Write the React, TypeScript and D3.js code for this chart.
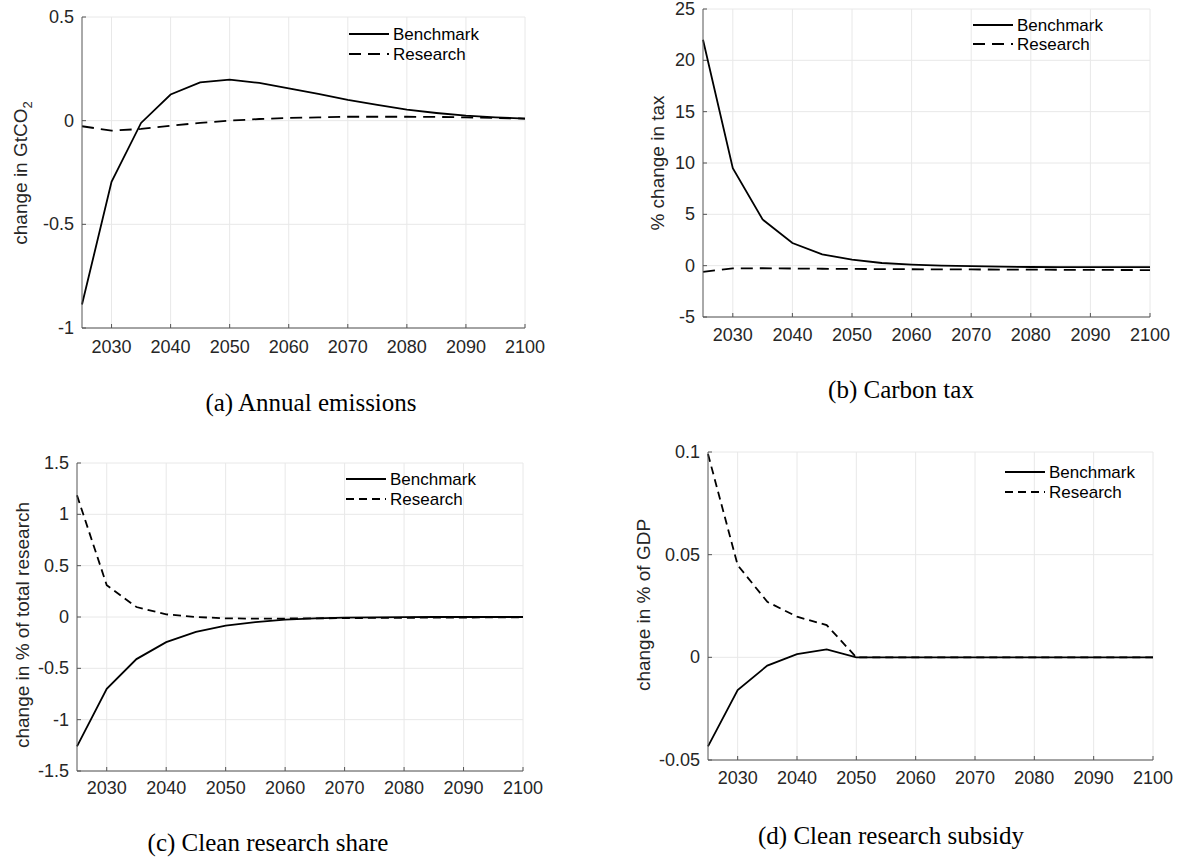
import React from "react";
import * as d3 from "d3";

// model years and tick years
const years = [2025, 2030, 2035, 2040, 2045, 2050, 2055, 2060, 2065, 2070, 2075, 2080, 2085, 2090, 2095, 2100];
const xTicks = [2030, 2040, 2050, 2060, 2070, 2080, 2090, 2100];
const seriesNames = ["Benchmark", "Research"];

// (a) annual emissions, GtCO2
const emissionsBenchmark = [-0.887, -0.295, -0.011, 0.126, 0.185, 0.198, 0.182, 0.156, 0.129, 0.1, 0.076, 0.053, 0.037, 0.024, 0.016, 0.01];
const emissionsResearch = [-0.027, -0.048, -0.04, -0.024, -0.011, 0, 0.008, 0.013, 0.016, 0.019, 0.019, 0.019, 0.018, 0.016, 0.013, 0.01];
const emissionsTicks = [-1, -0.5, 0, 0.5];

// (b) carbon tax, % change
const taxBenchmark = [22.0, 9.5, 4.5, 2.2, 1.1, 0.58, 0.26, 0.1, 0.0, -0.05, -0.1, -0.13, -0.15, -0.15, -0.15, -0.15];
const taxResearch = [-0.6, -0.27, -0.25, -0.28, -0.3, -0.32, -0.33, -0.35, -0.36, -0.37, -0.38, -0.39, -0.4, -0.41, -0.42, -0.43];
const taxTicks = [-5, 0, 5, 10, 15, 20, 25];

// (c) clean research share, % of total research
const shareBenchmark = [-1.26, -0.7, -0.41, -0.245, -0.146, -0.084, -0.05, -0.026, -0.013, -0.006, -0.003, -0.001, 0, 0, 0, 0];
const shareResearch = [1.185, 0.31, 0.097, 0.026, 0, -0.013, -0.016, -0.015, -0.013, -0.011, -0.009, -0.008, -0.006, -0.005, -0.004, -0.003];
const shareTicks = [-1.5, -1, -0.5, 0, 0.5, 1, 1.5];

// (d) clean research subsidy, % of GDP
const subsidyBenchmark = [-0.0434, -0.0159, -0.004, 0.0016, 0.0039, 0, 0, 0, 0, 0, 0, 0, 0, 0, 0, 0];
const subsidyResearch = [0.099, 0.0449, 0.027, 0.0198, 0.0157, 0, 0, 0, 0, 0, 0, 0, 0, 0, 0, 0];
const subsidyTicks = [-0.05, 0, 0.05, 0.1];

const SANS = "'Liberation Sans', Arial, Helvetica, sans-serif";
const SERIF = "'Liberation Serif', 'Times New Roman', serif";
const INK = "#262626";

interface PanelProps {
  box: { left: number; right: number; top: number; bottom: number };
  benchmark: number[];
  research: number[];
  yDomain: [number, number];
  yTicks: number[];
  yLabel: React.ReactNode;
  yLabelX: number;
  yLabelY: number;
  xLabelY: number;
  caption: string;
  captionX: number;
  captionY: number;
  legend: { x: number; y: number; gap: number };
  dash: string;
}

const Panel: React.FC<PanelProps> = ({
  box, benchmark, research, yDomain, yTicks, yLabel, yLabelX, yLabelY,
  xLabelY, caption, captionX, captionY, legend, dash,
}) => {
  const x = d3.scaleLinear().domain([2025, 2100]).range([box.left, box.right]);
  const y = d3.scaleLinear().domain(yDomain).range([box.bottom, box.top]);

  const line = d3.line<number>()
    .x((_, i) => x(years[i]))
    .y(d => y(d));

  const tickLen = 4;

  return (
    <g>
      {/* grid */}
      {xTicks.map(t => (
        <line key={"gx" + t} x1={x(t)} x2={x(t)} y1={box.top} y2={box.bottom} stroke="#e8e8e8" strokeWidth={1} />
      ))}
      {yTicks.map(t => (
        <line key={"gy" + t} x1={box.left} x2={box.right} y1={y(t)} y2={y(t)} stroke="#e8e8e8" strokeWidth={1} />
      ))}

      {/* series */}
      <path d={line(research) ?? ""} fill="none" stroke="#000" strokeWidth={1.8} strokeDasharray={dash} />
      <path d={line(benchmark) ?? ""} fill="none" stroke="#000" strokeWidth={1.8} />

      {/* axes */}
      <line x1={box.left} x2={box.right} y1={box.bottom} y2={box.bottom} stroke="#555" strokeWidth={1} />
      <line x1={box.left} x2={box.left} y1={box.top} y2={box.bottom} stroke="#555" strokeWidth={1} />
      {xTicks.map(t => (
        <g key={"xt" + t}>
          <line x1={x(t)} x2={x(t)} y1={box.bottom} y2={box.bottom - tickLen} stroke="#555" strokeWidth={1} />
          <text x={x(t)} y={xLabelY} textAnchor="middle" dominantBaseline="central"
            fontFamily={SANS} fontSize={18} fill={INK}>{t}</text>
        </g>
      ))}
      {yTicks.map(t => (
        <g key={"yt" + t}>
          <line x1={box.left} x2={box.left + tickLen} y1={y(t)} y2={y(t)} stroke="#555" strokeWidth={1} />
          <text x={box.left - 8} y={y(t)} textAnchor="end" dominantBaseline="central"
            fontFamily={SANS} fontSize={18} fill={INK}>{String(t)}</text>
        </g>
      ))}

      <text transform={`translate(${yLabelX},${yLabelY}) rotate(-90)`} textAnchor="middle"
        fontFamily={SANS} fontSize={19} fill={INK}>{yLabel}</text>

      {/* legend */}
      {seriesNames.map((name, i) => (
        <g key={name}>
          <line x1={legend.x} x2={legend.x + 40} y1={legend.y + i * legend.gap} y2={legend.y + i * legend.gap}
            stroke="#000" strokeWidth={1.8} strokeDasharray={i === 1 ? dash : undefined} />
          <text x={legend.x + 44} y={legend.y + i * legend.gap} dominantBaseline="central"
            fontFamily={SANS} fontSize={17} fill="#000">{name}</text>
        </g>
      ))}

      <text x={captionX} y={captionY} textAnchor="middle" fontFamily={SERIF} fontSize={25} fill="#000">{caption}</text>
    </g>
  );
};

export default function App() {
  return (
    <svg width={1179} height={861} style={{ position: "absolute", left: 0, top: 0, background: "#fff" }}>
      <Panel
        box={{ left: 82, right: 525, top: 17, bottom: 328 }}
        benchmark={emissionsBenchmark}
        research={emissionsResearch}
        yDomain={[-1, 0.5]}
        yTicks={emissionsTicks}
        yLabel={<><tspan>change in GtCO</tspan><tspan dy={5} fontSize={13}>2</tspan></>}
        yLabelX={27}
        yLabelY={173}
        xLabelY={347}
        caption="(a) Annual emissions"
        captionX={311}
        captionY={411}
        legend={{ x: 349, y: 34, gap: 20 }}
        dash="12,7"
      />
      <Panel
        box={{ left: 703, right: 1150, top: 9, bottom: 317 }}
        benchmark={taxBenchmark}
        research={taxResearch}
        yDomain={[-5, 25]}
        yTicks={taxTicks}
        yLabel="% change in tax"
        yLabelX={664}
        yLabelY={163}
        xLabelY={335}
        caption="(b) Carbon tax"
        captionX={901}
        captionY={398}
        legend={{ x: 973, y: 25, gap: 19 }}
        dash="12,7"
      />
      <Panel
        box={{ left: 77, right: 523, top: 463, bottom: 771 }}
        benchmark={shareBenchmark}
        research={shareResearch}
        yDomain={[-1.5, 1.5]}
        yTicks={shareTicks}
        yLabel="change in % of total research"
        yLabelX={29}
        yLabelY={625}
        xLabelY={788}
        caption="(c) Clean research share"
        captionX={268}
        captionY={851}
        legend={{ x: 346, y: 479, gap: 20 }}
        dash="8,5"
      />
      <Panel
        box={{ left: 708, right: 1153, top: 452, bottom: 760 }}
        benchmark={subsidyBenchmark}
        research={subsidyResearch}
        yDomain={[-0.05, 0.1]}
        yTicks={subsidyTicks}
        yLabel="change in % of GDP"
        yLabelX={650}
        yLabelY={605}
        xLabelY={778}
        caption="(d) Clean research subsidy"
        captionX={891}
        captionY={844}
        legend={{ x: 1005, y: 472, gap: 20 }}
        dash="8,5"
      />
    </svg>
  );
}
